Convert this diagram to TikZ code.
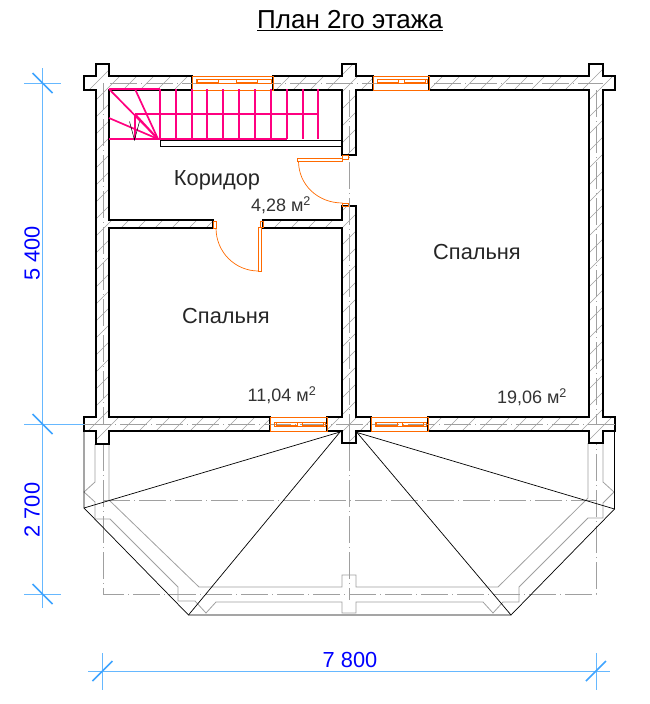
\documentclass[tikz,border=0pt]{standalone}
\usepackage{fontspec}
\setmainfont{Liberation Sans}
\usetikzlibrary{positioning}
\definecolor{wallgrey}{HTML}{A0A0A0}
\definecolor{winorange}{HTML}{FF6A00}
\definecolor{stairpink}{HTML}{FF0080}
\definecolor{dimblue}{HTML}{66B8FF}
\definecolor{dimtick}{HTML}{3FA4FF}
\newcommand{\wallpath}{
% left part
(96,64) -- (109,64) -- (109,76) -- (192,76) -- (192,90) -- (109,90) -- (109,220) -- (213,220)
-- (213,228) -- (109,228) -- (109,417) -- (270,417) -- (270,431) -- (109,431) -- (109,444)
-- (96,444) -- (96,431) -- (84,431) -- (84,417) -- (96,417) -- (96,90) -- (84,90) -- (84,76)
-- (96,76) -- cycle
% centre, top
(342,64) -- (356,64) -- (356,76) -- (373,76) -- (373,90) -- (356,90) -- (356,155) -- (342,155)
-- (342,90) -- (273,90) -- (273,76) -- (342,76) -- cycle
% centre, bottom
(342,206) -- (356,206) -- (356,417) -- (371,417) -- (371,431) -- (356,431) -- (356,443)
-- (342,443) -- (342,431) -- (327,431) -- (327,417) -- (342,417) -- (342,228) -- (263,228)
-- (263,220) -- (342,220) -- cycle
% right part
(429,76) -- (589,76) -- (589,64) -- (603,64) -- (603,76) -- (615,76) -- (615,90) -- (603,90)
-- (603,417) -- (615,417) -- (615,431) -- (603,431) -- (603,443) -- (589,443) -- (589,431)
-- (428,431) -- (428,417) -- (589,417) -- (589,90) -- (429,90) -- cycle
}
% #1 left, #2 right, #3 top of frame, #4 offset of inner frame, #5 first sash, #6 second sash
\newcommand{\planwin}[6]{
\draw[winline] (#1,#3) rectangle (#2,#3+14);
\draw[winline] (#1+4,#3+#4) rectangle (#2-2,#3+#4+4);
\draw[winline] (#5,#3+#4) rectangle ++(21,3);
\draw[winline] (#6,#3+#4) rectangle ++(21,3);
}
\tikzset{
    wall/.style={
        draw=black,
        line width=1.6pt,
        line join=miter
        },
    hatchline/.style={
        draw=wallgrey,
        line width=0.6pt
        },
    axisline/.style={
        draw=wallgrey,
        line width=0.8pt,
        dash pattern=on 27pt off 4pt on 1pt off 4pt
        },
    verandaline/.style={
        draw=wallgrey,
        line width=0.8pt
        },
    roofline/.style={
        draw=black,
        line width=0.7pt
        },
    winline/.style={
        draw=winorange,
        line width=0.5pt
        },
    doorline/.style={
        draw=winorange,
        line width=0.7pt
        },
    stair/.style={
        draw=stairpink,
        line width=1.7pt
        },
    dimline/.style={
        draw=dimblue,
        line width=0.7pt
        },
    dimmark/.style={
        draw=dimtick,
        line width=1.6pt
        },
    roomlabel/.style={
        font=\fontsize{21.8}{24}\selectfont,
        text=black!85,
        inner sep=0pt
        },
    arealabel/.style={
        font=\fontsize{18}{20}\selectfont,
        text=black!80,
        inner sep=0pt
        },
    dimlabel/.style={
        font=\fontsize{21.8}{24}\selectfont,
        text=blue,
        inner sep=0pt
        }
}
\begin{document}
\begin{tikzpicture}[x=1pt,y=-1pt]
\useasboundingbox (0,0) rectangle (650,704);

%%%%% veranda outline
\draw[verandaline] (109,444) -- (109,500) -- (199,587) -- (342,587) -- (342,575) -- (356,575)
  -- (356,587) -- (498,587) -- (588,498) -- (588,443);
\draw[verandaline] (95,444) -- (95,482) -- (84,492) -- (95,502) -- (95,519) -- (110,519)
  -- (178,587) -- (178,601) -- (195,601) -- (206,613) -- (216,602) -- (342,602) -- (342,613)
  -- (356,613) -- (356,602) -- (483,602) -- (493,613) -- (503,602) -- (519,602) -- (519,587)
  -- (588,518) -- (603,518) -- (603,503) -- (614,492) -- (603,482) -- (603,443);

%%%%% axes
\draw[axisline] (103,444) -- (103,594) -- (596,594) -- (596,444);
\draw[axisline] (103,500) -- (596,500);
\draw[axisline] (349,444) -- (349,600);

%%%%% walls
\begin{scope}
\clip \wallpath;
\foreach \d in {60,77,...,1100}
  \draw[hatchline] (\d,0) -- (0,\d);
\end{scope}
\draw[wall] \wallpath;
\draw[axisline] (103,83) -- (103,424);
\draw[axisline] (110,83) -- (603,83);
\draw[axisline] (596,90) -- (596,424);
\draw[axisline] (84,424) -- (615,424);
\draw[axisline] (349,90) -- (349,444);

%%%%% windows
\planwin{192}{273}{76}{3.5}{197}{236}
\planwin{373}{429}{76}{3.5}{377}{404}
\planwin{270}{327}{417}{5}{276}{302}
\planwin{371}{428}{417}{5}{376}{402}

%%%%% stairs
\foreach \x in {160,176,192,207,223,239,255,271,287,303,318}
  \draw[stair] (\x,89) -- (\x,139);
\draw[stair] (109,89) -- (160,89);
\draw[stair] (135,114) -- (318,114);
\draw[stair] (109,139) -- (287,139);
\draw[stair] (135,114) -- (135,139);
\draw[stair] (158,139) -- (109,89);
\draw[stair] (158,139) -- (135,89);
\draw[stair] (158,139) -- (135,114);
\draw[stair] (158,139) -- (109,118);
\draw[line width=0.5pt] (129.5,121.5) -- (134.5,140) -- (139.5,121.5);
\draw[line width=0.7pt] (160.5,140) rectangle (342,146.5);

%%%%% doors
\draw[doorline] (297.5,158.5) rectangle (342.5,161);
\draw[doorline] (342.5,155) rectangle (348.5,159);
\draw[doorline] (298.5,161) .. controls (298.5,185) and (318,203) .. (342.5,203);
\draw[doorline] (342.5,203) rectangle (348.5,206);
\draw[doorline] (213.5,221) rectangle (216.5,228);
\draw[doorline] (216,228) .. controls (216,252) and (235,271) .. (258.5,271);
\draw[doorline] (258.5,227.5) rectangle (261,271.5);
\draw[doorline] (260.5,221) rectangle (263.5,227.5);

%%%%% roof
\draw[roofline] (84,431) -- (84,508) -- (188.5,615) -- (511,615) -- (614.5,509) -- (614.5,431);
\draw[roofline] (84,508) -- (340,432);
\draw[roofline] (188.5,615) -- (340,432);
\draw[roofline] (511,615) -- (357,432.5);
\draw[roofline] (614.5,509) -- (357,432.5);

%%%%% title
\node[inner sep=0pt, font=\fontsize{26}{30}\selectfont] (title) at (350,21) {\underline{План 2го этажа}};

%%%%% room labels
\node[roomlabel] (corridor) at (217,180) {Коридор};
\node[arealabel] (corridorarea) at (281,205) {4,28 м\textsuperscript{2}};
\node[roomlabel] (bedroomleft) at (226,316) {Спальня};
\node[arealabel] (bedroomleftarea) at (282,395) {11,04 м\textsuperscript{2}};
\node[roomlabel] (bedroomright) at (477,252) {Спальня};
\node[arealabel] (bedroomrightarea) at (532,397) {19,06 м\textsuperscript{2}};

%%%%% vertical dimensions
\coordinate (vtop) at (42.5,68);
\coordinate (vbot) at (42.5,608);
\draw[dimline] (vtop) -- (vbot);
\foreach \y/\r in {83/61,424/84,594/61} {
  \draw[dimline] (24,\y) -- (\r,\y);
  \draw[dimmark] (32.5,\y-10) -- (52.5,\y+10);
}
\node[dimlabel, rotate=90] (dimupper) at (32,253.5) {5 400};
\node[dimlabel, rotate=90] (dimlower) at (32,510) {2 700};

%%%%% horizontal dimension
\coordinate (hleft) at (88,671);
\coordinate (hright) at (610,671);
\draw[dimline] (hleft) -- (hright);
\foreach \x in {102.5,596} {
  \draw[dimline] (\x,653) -- (\x,690);
  \draw[dimmark] (\x-10,681) -- (\x+10,661);
}
\node[dimlabel] (dimwidth) at (350,660) {7 800};
\end{tikzpicture}
\end{document}
